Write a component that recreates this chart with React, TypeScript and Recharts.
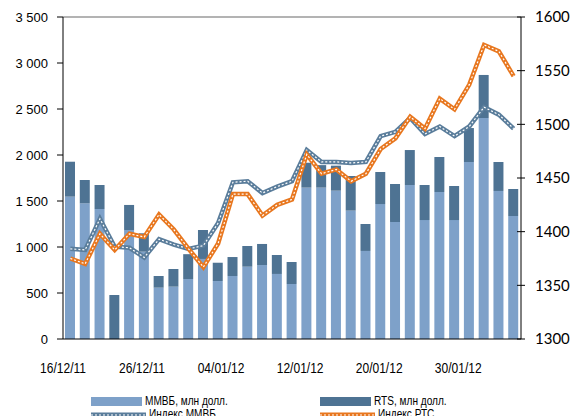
import {
  ComposedChart,
  Bar,
  Line,
  XAxis,
  YAxis,
  Legend,
  ReferenceLine,
} from "recharts";

const dateLabels = ["16/12/11", "26/12/11", "04/01/12", "12/01/12", "20/01/12", "30/01/12"];

// объёмы торгов, млн долл.
const mmvbVolume = [
  1547, 1475, 1413, 0, 1185, 949, 558, 569, 652, 870, 630, 685, 786, 804, 707, 598,
  1645, 1645, 1612, 1395, 957, 1467, 1272, 1674, 1293, 1598, 1293, 1924, 2402, 1609, 1337,
];
const rtsVolume = [
  380, 253, 261, 478, 272, 200, 127, 192, 270, 315, 199, 206, 225, 229, 206, 239,
  271, 245, 272, 377, 293, 348, 413, 380, 381, 380, 370, 369, 468, 315, 293,
];

// индексы, правая шкала
const mmvbIndex = [
  1384, 1383, 1412, 1386, 1385, 1376, 1393, 1388, 1384, 1387, 1408, 1446, 1447, 1436, 1442, 1447,
  1476, 1465, 1465, 1464, 1465, 1489, 1493, 1506, 1491, 1498, 1489, 1498, 1516, 1509, 1496,
];
const rtsIndex = [
  1375, 1370, 1398, 1383, 1398, 1395, 1416, 1402, 1384, 1367, 1389, 1435, 1435, 1415, 1425, 1430,
  1472, 1454, 1458, 1447, 1454, 1477, 1487, 1507, 1496, 1524, 1514, 1537, 1574, 1568, 1545,
];

const leftTicks = [0, 500, 1000, 1500, 2000, 2500, 3000, 3500];
const rightTicks = [1300, 1350, 1400, 1450, 1500, 1550, 1600];

const data = mmvbVolume.map((v, i) => ({
  idx: i,
  mmvb: v,
  rts: rtsVolume[i],
  mmvbIdx: mmvbIndex[i],
  rtsIdx: rtsIndex[i],
}));

const LIGHT = "#7ea1c9";
const DARK = "#4e7393";
const ORANGE = "#e8771f";
const STEEL = "#5a7d9b";

const FONT = "'Liberation Sans', Arial, sans-serif";

// Excel spreads the date labels a bit over every 5th category
const LABEL_STEP = 5.35;
const domainX: [number, number] = [-0.5, data.length - 0.5];
// tick lines sit between the bars, like Excel does
const catTicks = Array.from({ length: data.length + 1 }, (_, i) => i - 0.5);
const labelTicks = dateLabels.map((_, i) => -0.5 + i * LABEL_STEP);

const fmtThousands = (v: number) =>
  v >= 1000 ? `${Math.floor(v / 1000)} ${String(v % 1000).padStart(3, "0")}` : String(v);

const DateTick = (props: any) => {
  const { x, y, payload } = props;
  const label = dateLabels[Math.round((payload.value + 0.5) / LABEL_STEP)];
  return (
    <text
      transform={`translate(${x},${y}) scale(0.86,1)`}
      textAnchor="middle"
      dy="0.71em"
      fontFamily={FONT}
      fontSize={14}
      fill="#000"
    >
      {label}
    </text>
  );
};

const RightTick = (props: any) => {
  const { x, y, payload } = props;
  return (
    <g>
      <line x1={x - 4} x2={x + 4} y1={y} y2={y} stroke="#000" />
      <text x={x + 14} y={y} dy="0.36em" fontFamily="Lato, sans-serif" fontSize={15} fill="#000">
        {payload.value}
      </text>
    </g>
  );
};

const LineSwatch = ({ color }: { color: string }) => (
  <svg width={55} height={6} style={{ verticalAlign: "middle" }}>
    <line x1={0} x2={55} y1={3} y2={3} stroke={color} strokeWidth={5} />
    <line x1={0} x2={55} y1={3} y2={3} stroke="#fff" strokeWidth={1.2} strokeDasharray="2 2" />
  </svg>
);

const BarSwatch = ({ color }: { color: string }) => (
  <span style={{ display: "inline-block", width: 51, height: 9, background: color, verticalAlign: "middle" }} />
);

const legendItems = [
  { name: "ММВБ, млн долл.", kind: "bar", color: LIGHT },
  { name: "RTS, млн долл.", kind: "bar", color: DARK },
  { name: "Индекс ММВБ", kind: "line", color: STEEL },
  { name: "Индекс РТС", kind: "line", color: ORANGE },
];

const ChartLegend = () => (
  <div
    style={{
      display: "grid",
      gridTemplateColumns: "229px auto",
      paddingLeft: 91,
      height: 26,
      fontFamily: FONT,
      fontSize: 12,
      color: "#000",
      lineHeight: "13px",
    }}
  >
    {legendItems.map((it) => (
      <div key={it.name} style={{ height: 13, whiteSpace: "nowrap" }}>
        {it.kind === "bar" ? <BarSwatch color={it.color} /> : <LineSwatch color={it.color} />}
        <span
          style={{
            display: "inline-block",
            marginLeft: 3,
            verticalAlign: "middle",
            transform: "scaleX(0.84)",
            transformOrigin: "left center",
          }}
        >
          {it.name}
        </span>
      </div>
    ))}
  </div>
);

export default function App() {
  return (
    <div style={{ position: "absolute", left: 0, top: 0, background: "#fff" }}>
      <ComposedChart
        width={584}
        height={416}
        data={data}
        margin={{ top: 17, right: 0, left: 0, bottom: 0 }}
      >
        <XAxis
          xAxisId="cat"
          type="number"
          dataKey="idx"
          domain={domainX}
          ticks={catTicks}
          interval={0}
          tick={false}
          tickSize={6}
          height={8}
          axisLine={{ stroke: "#000" }}
          tickLine={{ stroke: "#000" }}
        />
        <XAxis
          xAxisId="lbl"
          type="number"
          dataKey="idx"
          domain={domainX}
          ticks={labelTicks}
          interval={0}
          allowDataOverflow
          axisLine={false}
          tickLine={false}
          tickSize={0}
          tickMargin={16}
          height={43}
          tick={<DateTick />}
        />
        <YAxis
          yAxisId="vol"
          width={63}
          domain={[0, 3500]}
          ticks={leftTicks}
          interval={0}
          tickFormatter={fmtThousands}
          tickSize={6}
          tickMargin={9}
          axisLine={{ stroke: "#000" }}
          tickLine={{ stroke: "#000" }}
          tick={{ fontFamily: FONT, fontSize: 13, fill: "#000" }}
        />
        <YAxis
          yAxisId="idx"
          orientation="right"
          width={63}
          domain={[1300, 1600]}
          ticks={rightTicks}
          interval={0}
          tickSize={0}
          tickMargin={0}
          tickLine={false}
          axisLine={{ stroke: "#000" }}
          tick={<RightTick />}
        />
        <ReferenceLine xAxisId="cat" yAxisId="vol" y={3500} stroke="#9a9a9a" strokeWidth={1.5} />
        <Legend
          verticalAlign="bottom"
          content={<ChartLegend />}
          wrapperStyle={{ left: 0, top: 395, width: 584 }}
        />
        <Bar xAxisId="cat" yAxisId="vol" dataKey="mmvb" stackId="v" fill={LIGHT} barSize={10} isAnimationActive={false} />
        <Bar xAxisId="cat" yAxisId="vol" dataKey="rts" stackId="v" fill={DARK} barSize={10} isAnimationActive={false} />
        <Line xAxisId="cat" yAxisId="idx" type="linear" dataKey="mmvbIdx" stroke={STEEL} strokeWidth={4.5} dot={false} activeDot={false} isAnimationActive={false} />
        <Line xAxisId="cat" yAxisId="idx" type="linear" dataKey="mmvbIdx" stroke="#fff" strokeWidth={1.2} strokeDasharray="2 2" dot={false} activeDot={false} isAnimationActive={false} />
        <Line xAxisId="cat" yAxisId="idx" type="linear" dataKey="rtsIdx" stroke={ORANGE} strokeWidth={4.5} dot={false} activeDot={false} isAnimationActive={false} />
        <Line xAxisId="cat" yAxisId="idx" type="linear" dataKey="rtsIdx" stroke="#fff" strokeWidth={1.2} strokeDasharray="2 2" dot={false} activeDot={false} isAnimationActive={false} />
      </ComposedChart>
    </div>
  );
}
